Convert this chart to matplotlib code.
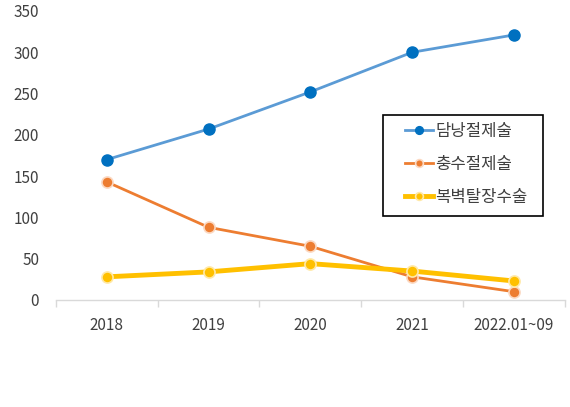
import matplotlib
matplotlib.use("Agg")
import matplotlib.pyplot as plt
from matplotlib.patches import Rectangle

plt.rcParams['font.family'] = ['Noto Sans CJK KR', 'DejaVu Sans']

categories = ["2018", "2019", "2020", "2021", "2022.01~09"]
gallbladder = [170, 207, 252, 300, 321]
appendix = [143, 88, 65, 28, 10]
hernia = [28, 34, 44, 35, 23]
series_names = ["담낭절제술", "충수절제술", "복벽탈장수술"]
y_ticks = [0, 50, 100, 150, 200, 250, 300, 350]

fig = plt.figure(figsize=(5.70, 4.07), dpi=100)
ax = fig.add_axes([0.098, 0.263, 0.893, 0.710])
x = list(range(len(categories)))

ax.plot(x, gallbladder, color='#5B9BD5', lw=2, marker='o', markersize=8,
        markerfacecolor='#0070C0', markeredgecolor='#0070C0', label=series_names[0], zorder=3)
ax.plot(x, appendix, color='#ED7D31', lw=2, marker='o', markersize=8,
        markerfacecolor='#ED7D31', markeredgecolor='#FBD9C3', markeredgewidth=1.2,
        label=series_names[1], zorder=3)
ax.plot(x, hernia, color='#FFC000', lw=3.5, marker='o', markersize=8,
        markerfacecolor='#FFC000', markeredgecolor='#FFE9A8', markeredgewidth=1.2,
        label=series_names[2], zorder=4)

ax.set_xlim(-0.5, len(categories) - 0.5)
ax.set_ylim(0, 350)
ax.set_yticks(y_ticks)
ax.set_xticks(x)
ax.set_xticklabels(categories)
ax.set_xticks([i - 0.5 for i in range(len(categories) + 1)], minor=True)
ax.tick_params(axis='x', which='major', length=0, pad=12, labelsize=11, colors='#404040')
ax.tick_params(axis='x', which='minor', length=5, color='#D9D9D9', width=1)
ax.tick_params(axis='y', length=0, pad=12, labelsize=11, colors='#404040')
for s in ['top', 'right', 'left']:
    ax.spines[s].set_visible(False)
ax.spines['bottom'].set_color('#D9D9D9')
ax.spines['bottom'].set_linewidth(1)

frame = Rectangle((0.642, 0.291), 0.315, 0.349, transform=ax.transAxes,
                  facecolor='white', edgecolor='black', linewidth=1.2, zorder=5, clip_on=False)
ax.add_patch(frame)

leg = ax.legend(loc='upper left', bbox_to_anchor=(0.686, 0.612),
                borderaxespad=0, borderpad=0, fontsize=12, frameon=False,
                handlelength=1.7, handletextpad=0.1, labelspacing=0.95,
                markerscale=0.7)
leg.set_zorder(6)
for t in leg.get_texts():
    t.set_color('#404040')

fig.savefig("out.png", dpi=100)
